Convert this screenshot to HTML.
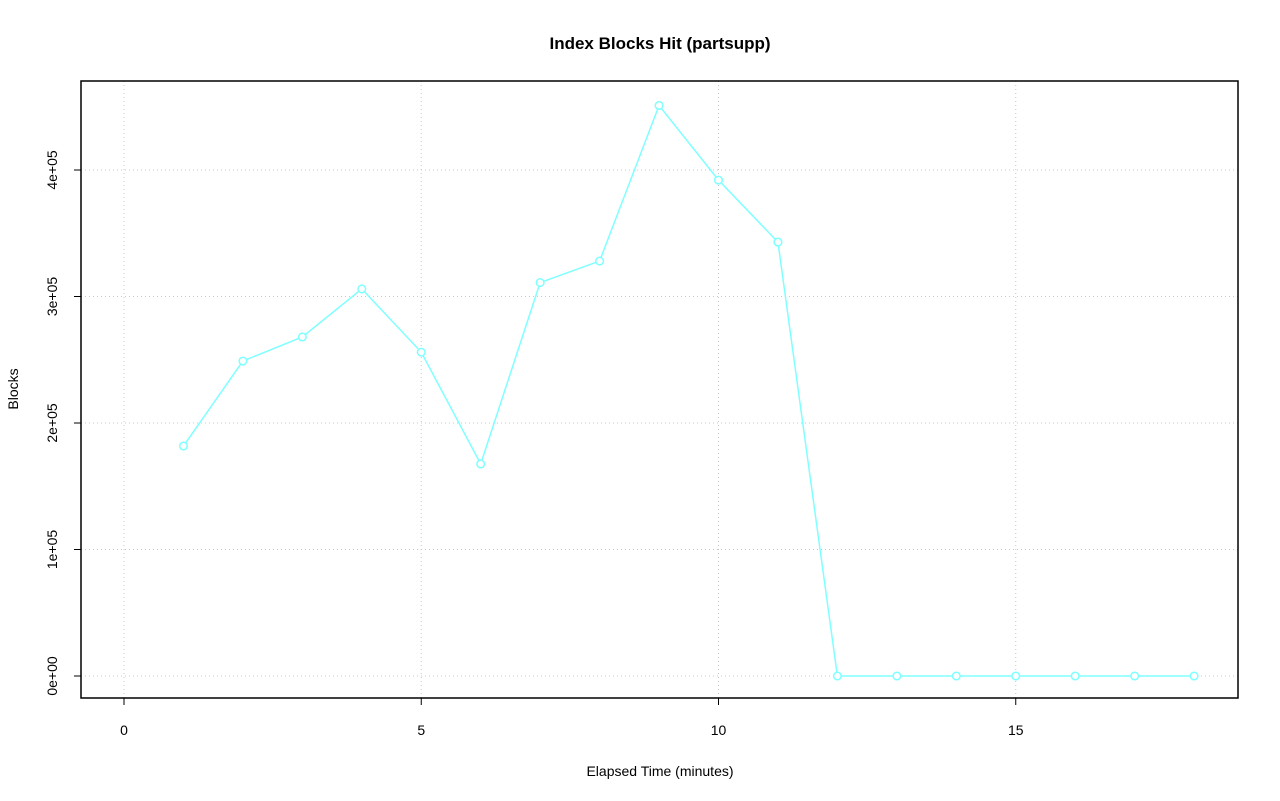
<!DOCTYPE html>
<html><head><meta charset="utf-8"><style>
body{margin:0;background:#fff;}
svg{display:block;font-family:"Liberation Sans",sans-serif;}
</style></head><body>
<svg id="chart" width="1280" height="801" viewBox="0 0 1280 801">
<rect width="1280" height="801" fill="#fff"/>
<text x="660" y="49" text-anchor="middle" font-size="17" font-weight="bold">Index Blocks Hit (partsupp)</text>
<text x="660" y="776" text-anchor="middle" font-size="14">Elapsed Time (minutes)</text>
<text transform="translate(18,389) rotate(-90)" text-anchor="middle" font-size="14">Blocks</text>
<g id="grid"></g><g id="axes"></g><g id="series"></g>
<rect x="81" y="81" width="1157" height="617" fill="none" stroke="#000" stroke-width="1.5"/>
</svg>
<script>
const xValues=[1,2,3,4,5,6,7,8,9,10,11,12,13,14,15,16,17,18];
const blocks=[181800,249000,268000,306000,256000,167600,311000,328000,451000,392000,343000,0,0,0,0,0,0,0];
const xTicks=[0,5,10,15];
const yTicks=[0,100000,200000,300000,400000];
const yTickLabels=["0e+00","1e+05","2e+05","3e+05","4e+05"];
const NS="http://www.w3.org/2000/svg";
const sx=v=>124+v*59.45;
const sy=v=>676-v/100000*126.5;
function mk(t,a,p){const e=document.createElementNS(NS,t);for(const k in a)e.setAttribute(k,a[k]);p.appendChild(e);return e;}
const grid=document.getElementById('grid'),axes=document.getElementById('axes'),ser=document.getElementById('series');
xTicks.forEach((t,i)=>{
 const g=mk('line',{x1:sx(t),x2:sx(t),y1:81,y2:698,stroke:'#c8c8c8','stroke-dasharray':'1,3'},grid);
 
 
 const tk=mk('line',{x1:sx(t),x2:sx(t),y1:698,y2:705,stroke:'#000'},axes);
 
 
 const l=mk('text',{x:sx(t),y:735,'text-anchor':'middle','font-size':'14'},axes);l.textContent=t;
 
 
});
yTicks.forEach((t,i)=>{
 const g=mk('line',{x1:81,x2:1238,y1:sy(t),y2:sy(t),stroke:'#c8c8c8','stroke-dasharray':'1,3'},grid);
 
 
 const tk=mk('line',{x1:74,x2:81,y1:sy(t),y2:sy(t),stroke:'#000'},axes);
 
 
 const l=mk('text',{transform:`translate(57,${sy(t)}) rotate(-90)`,'text-anchor':'middle','font-size':'14'},axes);l.textContent=yTickLabels[i];
 
 
});
const pts=xValues.map((x,i)=>sx(x)+','+sy(blocks[i])).join(' ');
const pl=mk('polyline',{points:pts,fill:'none',stroke:'#80ffff','stroke-width':'1.5'},ser);


xValues.forEach((x,i)=>{
 const c=mk('circle',{cx:sx(x),cy:sy(blocks[i]),r:3.8,fill:'#fff',stroke:'#80ffff','stroke-width':'1.5'},ser);
 
 
});
</script>
</body></html>
